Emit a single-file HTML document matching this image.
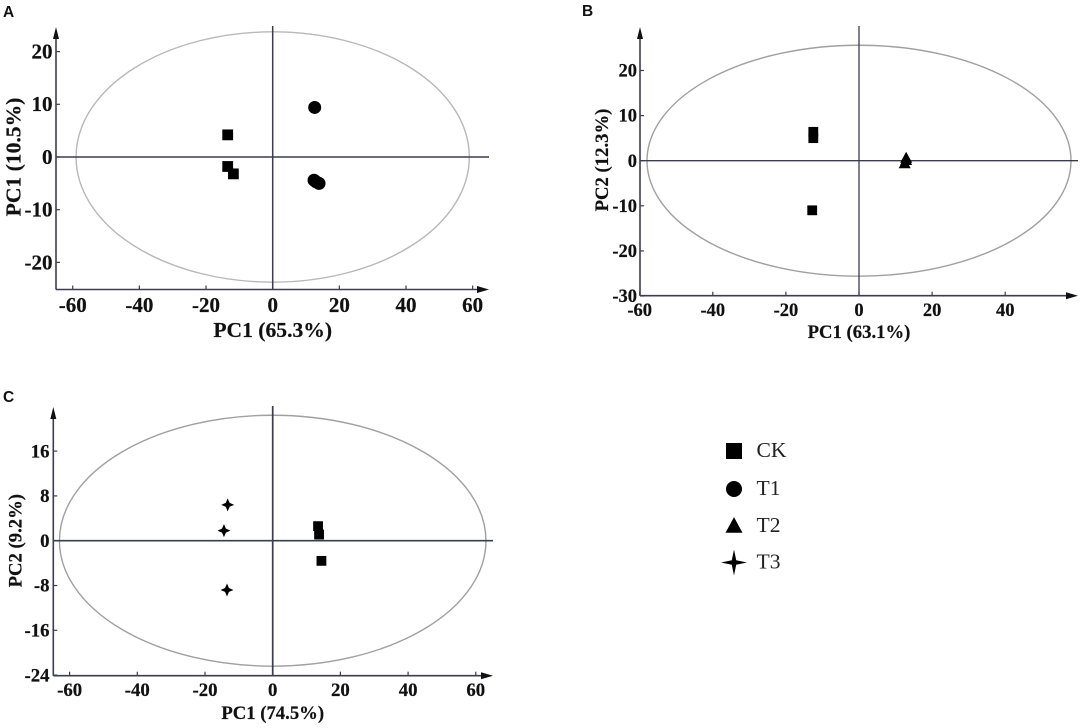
<!DOCTYPE html>
<html lang="en">
<head>
<meta charset="utf-8">
<title>PCA score plots</title>
<style>
html,body{margin:0;padding:0;background:#fff;width:1084px;height:728px;overflow:hidden}
svg{display:block}
text{font-family:"Liberation Serif",serif}
.tick,.title{font-weight:bold;fill:#111;stroke:#111;stroke-width:0.2px}
.panel{font-family:"Liberation Sans",sans-serif;font-weight:bold;font-size:15.5px;fill:#111}
</style>
</head>
<body>
<svg id="fig" width="1084" height="728" viewBox="0 0 1084 728" xmlns="http://www.w3.org/2000/svg"></svg>
<script>
/* ---------- Data: panel A ---------- */
const aXTicks = [-60, -40, -20, 0, 20, 40, 60];
const aYTicks = [20, 10, 0, -10, -20];
const aEllipse = [59, 23.75];
const aCkX = [-13.5, -13.5, -11.8];
const aCkY = [4.2, -1.8, -3.2];
const aT1X = [12.6, 12.4, 13, 13.9];
const aT1Y = [9.4, -4.4, -4.7, -5.0];

/* ---------- Data: panel B ---------- */
const bXTicks = [-60, -40, -20, 0, 20, 40];
const bYTicks = [20, 10, 0, -10, -20, -30];
const bEllipse = [58, 25.6];
const bCkX = [-12.5, -12.5, -12.8];
const bCkY = [6.4, 5.0, -11.0];
const bT2X = [12.9, 12.5, 12.9];
const bT2Y = [0.6, -0.6, 0.1];

/* ---------- Data: panel C ---------- */
const cXTicks = [-60, -40, -20, 0, 20, 40, 60];
const cYTicks = [16, 8, 0, -8, -16, -24];
const cEllipse = [63, 22.4];
const cCkX = [13.4, 13.7, 14.4];
const cCkY = [2.6, 1.1, -3.6];
const cT3X = [-13.3, -14.4, -13.5];
const cT3Y = [6.4, 1.8, -8.8];

const legendLabels = ['CK', 'T1', 'T2', 'T3'];

/* ---------- Drawing ---------- */
const NS = 'http://www.w3.org/2000/svg';
const fig = document.getElementById('fig');
const AXIS = '#3c3c50';

function make(tag, name, attrs, parent, content) {
  const el = document.createElementNS(NS, tag);
  
  
  for (const k in attrs) el.setAttribute(k, attrs[k]);
  if (content !== undefined) el.textContent = content;
  parent.appendChild(el);
  return el;
}
function square(p, name, x, y, s) {
  make('rect', name, {x: x - s / 2, y: y - s / 2, width: s, height: s, fill: '#000'}, p);
}
function circle(p, name, x, y, r) {
  make('circle', name, {cx: x, cy: y, r: r, fill: '#000'}, p);
}
function triangle(p, name, x, y, r) {
  make('polygon', name, {points: [x, y - r * 1.05, x + r, y + r * 0.8, x - r, y + r * 0.8].join(' '), fill: '#000'}, p);
}
function star(p, name, x, y, r, waist) {
  const q = r * waist;
  const pts = [x, y - r, x + q, y - q, x + r, y, x + q, y + q, x, y + r, x - q, y + q, x - r, y, x - q, y - q];
  make('polygon', name, {points: pts.join(' '), fill: '#000'}, p);
}

function drawPanel(c) {
  const g = make('g', 'panel-' + c.id, {}, fig);
  const sx = v => c.x0 + v * c.kx;
  const sy = v => c.y0 - v * c.ky;

  make('text', 'panel-label-' + c.id, {x: c.lx, y: c.ly, class: 'panel'}, g, c.id.toUpperCase());

  make('ellipse', 'confidence-ellipse', {cx: sx(0), cy: sy(0), rx: c.ell[0] * c.kx, ry: c.ell[1] * c.ky,
    fill: 'none', stroke: c.ellColor, 'stroke-width': 1.4}, g);

  /* zero lines */
  make('line', 'zero-line-vertical', {x1: sx(0), x2: sx(0), y1: c.top, y2: c.bottom, stroke: AXIS, 'stroke-width': c.zw}, g);
  make('line', 'zero-line-horizontal', {x1: c.left, x2: c.right, y1: sy(0), y2: sy(0), stroke: AXIS, 'stroke-width': c.zw}, g);

  /* axes and arrows */
  make('line', 'x-axis', {x1: c.left, x2: c.right - 8, y1: c.bottom, y2: c.bottom, stroke: AXIS, 'stroke-width': 1.6}, g);
  make('line', 'y-axis', {x1: c.left, x2: c.left, y1: c.bottom, y2: c.top + 8, stroke: AXIS, 'stroke-width': 1.6}, g);
  make('polygon', 'x-axis-arrow', {points: [c.right, c.bottom, c.right - 12, c.bottom - 3.5, c.right - 12, c.bottom + 3.5].join(' '), fill: '#111'}, g);
  make('polygon', 'y-axis-arrow', {points: [c.left, c.top + 1, c.left - 3, c.top + 13, c.left + 3, c.top + 13].join(' '), fill: '#111'}, g);

  /* ticks */
  c.xt.forEach(v => {
    make('line', 'x-tick', {x1: sx(v), x2: sx(v), y1: c.bottom, y2: c.bottom - 4, stroke: AXIS, 'stroke-width': 1.2}, g);
    make('text', 'x-tick-label', {x: sx(v) + (c.xlOff || 0), y: c.xlY, class: 'tick', 'font-size': c.fs, 'text-anchor': 'middle'}, g, String(v));
  });
  c.yt.forEach(v => {
    make('line', 'y-tick', {x1: c.left, x2: c.left + 4, y1: sy(v), y2: sy(v), stroke: AXIS, 'stroke-width': 1.2}, g);
    make('text', 'y-tick-label', {x: c.ylX, y: sy(v) + c.fs * 0.33, class: 'tick', 'font-size': c.fs, 'text-anchor': 'end'}, g, String(v));
  });

  /* titles */
  make('text', 'x-axis-title', {x: c.xtX, y: c.xtY, class: 'title', 'font-size': c.tfs, 'text-anchor': 'middle'}, g, c.xTitle);
  make('text', 'y-axis-title', {x: 0, y: 0, class: 'title', 'font-size': c.tfs, 'text-anchor': 'middle',
    transform: 'translate(' + c.ytX + ' ' + c.ytY + ') rotate(-90)'}, g, c.yTitle);

  return {g, sx, sy};
}

/* Panel A */
const A = drawPanel({id: 'a', x0: 272.7, y0: 157, kx: 3.333, ky: 5.27, left: 56, right: 489, top: 26, bottom: 289.5,
  lx: 3, ly: 17, ell: aEllipse, ellColor: '#b8b8b8', zw: 1.5, xt: aXTicks, yt: aYTicks, fs: 21, tfs: 21.6, xlY: 312, ylX: 52.5,
  xtX: 272.7, xtY: 337, ytX: 20.5, ytY: 157, xTitle: 'PC1 (65.3%)', yTitle: 'PC1 (10.5%)'});
aCkX.forEach((v, i) => square(A.g, 'ck-point', A.sx(v), A.sy(aCkY[i]), 10.8));
aT1X.forEach((v, i) => circle(A.g, 't1-point', A.sx(v), A.sy(aT1Y[i]), 6.5));

/* Panel B */
const B = drawPanel({id: 'b', x0: 859, y0: 160.7, kx: 3.655, ky: 4.51, left: 640, right: 1078, top: 26, bottom: 295.7,
  lx: 582, ly: 16, ell: bEllipse, ellColor: '#a0a0a0', zw: 1.3, xt: bXTicks, yt: bYTicks, fs: 18.5, tfs: 18.7, xlY: 316, ylX: 637,
  xtX: 859, xtY: 338, ytX: 608, ytY: 160, xTitle: 'PC1 (63.1%)', yTitle: 'PC2 (12.3%)'});
bCkX.forEach((v, i) => square(B.g, 'ck-point', B.sx(v), B.sy(bCkY[i]), 9.8));
bT2X.forEach((v, i) => triangle(B.g, 't2-point', B.sx(v), B.sy(bT2Y[i]), 6));

/* Panel C */
const C = drawPanel({id: 'c', x0: 272.7, y0: 540.7, kx: 3.385, ky: 5.6, left: 53.3, right: 493, top: 406, bottom: 675.7,
  lx: 3, ly: 402, ell: cEllipse, ellColor: '#a0a0a0', zw: 1.7, xt: cXTicks, yt: cYTicks, fs: 18.8, tfs: 18.7, xlY: 696, ylX: 49.5,
  xtX: 272.7, xtY: 719, ytX: 21.5, ytY: 540.7, xTitle: 'PC1 (74.5%)', yTitle: 'PC2 (9.2%)'});
cCkX.forEach((v, i) => square(C.g, 'ck-point', C.sx(v), C.sy(cCkY[i]), 9.8));
cT3X.forEach((v, i) => star(C.g, 't3-point', C.sx(v), C.sy(cT3Y[i]), 6.5, 0.3));

/* Legend */
const legend = make('g', 'legend', {}, fig);
const legendDraw = [
  (p, y) => square(p, 'legend-symbol-ck', 734, y, 16),
  (p, y) => circle(p, 'legend-symbol-t1', 734, y, 8),
  (p, y) => triangle(p, 'legend-symbol-t2', 734, y, 8.5),
  (p, y) => star(p, 'legend-symbol-t3', 734, y, 13, 0.17)
];
const legendRowY = [451, 489, 526, 562.5];
legendLabels.forEach((label, i) => {
  const row = make('g', 'legend-entry', {}, legend);
  legendDraw[i](row, legendRowY[i]);
  make('text', 'legend-label', {x: 756.5, y: legendRowY[i] + 6, 'font-size': 21.6, fill: '#222'}, row, label);
});
</script>
</body>
</html>
